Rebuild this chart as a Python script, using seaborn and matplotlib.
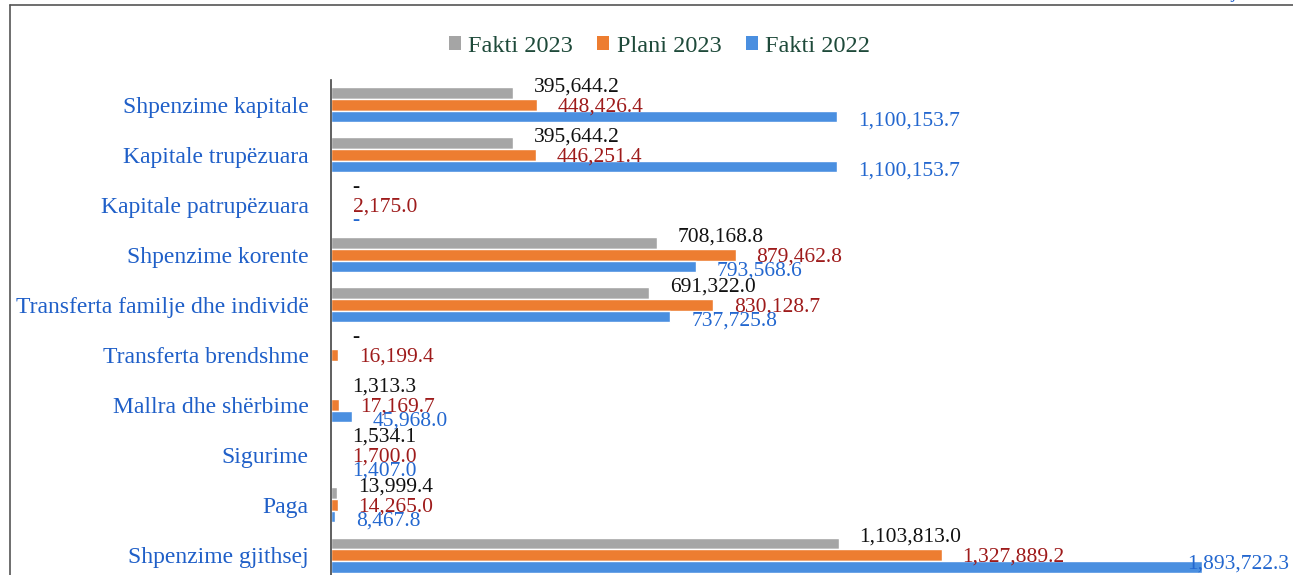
"""
plot.py
-------
Horizontal grouped bars: Fakti 2023 / Plani 2023 / Fakti 2022 per expense line.
"""

import matplotlib
matplotlib.use("Agg")
import matplotlib.pyplot as plt
from matplotlib.lines import Line2D
from matplotlib.patches import Patch
import pandas as pd
import seaborn as sns

# ──────────────────────────────────────────────────────────────────────────────
CATEGORIES = [
    "Shpenzime kapitale",
    "Kapitale trupëzuara",
    "Kapitale patrupëzuara",
    "Shpenzime korente",
    "Transferta familje dhe individë",
    "Transferta brendshme",
    "Mallra dhe shërbime",
    "Sigurime",
    "Paga",
    "Shpenzime gjithsej",
]
SERIES = ["Fakti 2023", "Plani 2023", "Fakti 2022"]

FAKTI_2023 = [395644.2, 395644.2, 0.0, 708168.8, 691322.0, 0.0, 1313.3, 1534.1, 13999.4, 1103813.0]
PLANI_2023 = [448426.4, 446251.4, 2175.0, 879462.8, 830128.7, 16199.4, 17169.7, 1700.0, 14265.0, 1327889.2]
FAKTI_2022 = [1100153.7, 1100153.7, 0.0, 793568.6, 737725.8, None, 45968.0, 1407.0, 8467.8, 1893722.3]

BAR_COLORS = ["#a5a5a5", "#ed7d31", "#4a8fe0"]
LABEL_COLORS = ["#111111", "#9e1b1b", "#2367cf"]
CAT_COLOR = "#1f5fc8"
LEGEND_COLOR = "#1e4a3a"

W, H = 1293, 575


def fmt(v):
    if v is None:
        return ""
    if v == 0:
        return "-"
    return f"{v:,.1f}"


def main():
    sns.set_theme(style="white")
    plt.rcParams["font.family"] = ["Liberation Serif", "DejaVu Serif"]

    rows = []
    for series, vals in zip(SERIES, [FAKTI_2023, PLANI_2023, FAKTI_2022]):
        for cat, v in zip(CATEGORIES, vals):
            rows.append({"cat": cat, "series": series, "value": 0.0 if v is None else v})
    df = pd.DataFrame(rows)

    fig = plt.figure(figsize=(W / 100, H / 100), dpi=100)
    ax = fig.add_axes([331 / W, -5 / H, 962 / W, 500 / H])

    sns.barplot(
        data=df, y="cat", x="value", hue="series", orient="h",
        order=CATEGORIES, hue_order=SERIES, palette=BAR_COLORS,
        width=0.7, saturation=1, ax=ax, legend=False,
    )
    xmax = 962 / 460 * 1e6
    ax.set_xlim(0, xmax)
    ax.set_ylim(len(CATEGORIES) - 0.5, -0.5)

    # ── data labels ───────────────────────────────────────────────────────────
    fig.canvas.draw()
    renderer = fig.canvas.get_renderer()
    offsets = [(15, 4.5), (15, -1.5), (15, -3.0)]
    for i, (container, vals) in enumerate(zip(ax.containers, [FAKTI_2023, PLANI_2023, FAKTI_2022])):
        for bar, v in zip(container, vals):
            txt = fmt(v)
            if not txt:
                continue
            y = bar.get_y() + bar.get_height() / 2
            t = ax.annotate(
                txt, (bar.get_width(), y), xytext=offsets[i], textcoords="offset points",
                ha="left", va="center", fontsize=15.5, color=LABEL_COLORS[i],
                annotation_clip=False,
            )
            # pull labels back inside when they run past the right edge
            bb = t.get_window_extent(renderer)
            if bb.x1 > fig.bbox.width - 2:
                t.xy = (xmax, y)
                t.set_position((-3, 2))
                t.set_ha("right")

    # ── axes styling ──────────────────────────────────────────────────────────
    for side in ["top", "right", "bottom"]:
        ax.spines[side].set_visible(False)
    ax.spines["left"].set_color("#444444")
    ax.spines["left"].set_linewidth(1.2)
    ax.set_xticks([])
    ax.set_xlabel("")
    ax.set_ylabel("")
    ax.tick_params(axis="y", length=0, pad=16, labelsize=17, labelcolor=CAT_COLOR)

    # ── legend ────────────────────────────────────────────────────────────────
    handles = [Patch(facecolor=c, edgecolor="none") for c in BAR_COLORS]
    fig.legend(
        handles, SERIES, loc="center", bbox_to_anchor=(0.51, 1 - 46 / H), ncol=3,
        frameon=False, fontsize=17.5, handlelength=0.5, handleheight=0.5,
        handletextpad=0.3, columnspacing=1.0, labelcolor=LEGEND_COLOR,
    )

    # ── frame and cropped unit note ───────────────────────────────────────────
    fig.add_artist(Line2D([10 / W, 1], [1 - 5 / H, 1 - 5 / H], color="#555555", lw=1.2))
    fig.add_artist(Line2D([10 / W, 10 / W], [0, 1 - 5 / H], color="#555555", lw=1.2))
    fig.text(1190 / W, 1 + 6 / H, "Në mijë lekë", color=CAT_COLOR, fontsize=13,
             style="italic", ha="left", va="center")

    fig.savefig("out.png", dpi=100)


if __name__ == "__main__":
    main()
